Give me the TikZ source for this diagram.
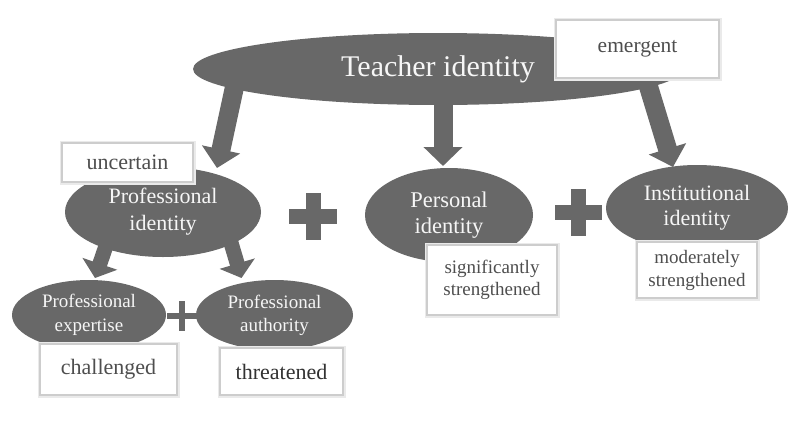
\documentclass[tikz,border=0pt]{standalone}
\usepackage{fontspec}
\setmainfont{Liberation Serif}
\usetikzlibrary{arrows.meta,calc,shapes.geometric}
\pgfdeclarelayer{background}
\pgfsetlayers{background,main}
\definecolor{ellcol}{RGB}{104,104,104}
\definecolor{elltext}{RGB}{246,246,246}
\definecolor{boxtext}{RGB}{78,78,78}
\definecolor{boxdark}{RGB}{50,50,50}
\definecolor{boxline}{RGB}{205,205,205}
\definecolor{boxglow}{RGB}{234,234,234}
\begin{document}
\begin{tikzpicture}[x=1pt,y=-1pt,
  idell/.style={ellipse, fill=ellcol, text=elltext, inner sep=0pt, align=center},
  tagbox/.style={rectangle, fill=white, draw=boxline, line width=1.2pt,
    preaction={draw=boxglow, line width=5pt}, text=boxtext, align=center, inner sep=0pt},
  bigarrow/.style={draw=ellcol, line width=19pt, -{Triangle[length=19pt 0, width=38pt 0]}},
  smallarrow/.style={draw=ellcol, line width=15pt, -{Triangle[length=15pt 0, width=36pt 0]}},
  plusbar/.style={fill=ellcol}
]
\useasboundingbox (0,0) rectangle (800,421);

% ellipses
\node[idell, minimum width=490pt, minimum height=72pt,
      font=\fontsize{30}{36}\selectfont] (T) at (438,69) {Teacher identity};
\node[idell, minimum width=196pt, minimum height=90pt,
      font=\fontsize{22}{27}\selectfont] (PI) at (163,212) {Professional\\identity};
\node[idell, minimum width=168pt, minimum height=94pt,
      font=\fontsize{22.5}{26}\selectfont] (PS) at (449,215) {Personal\\identity};
\node[idell, minimum width=182pt, minimum height=86pt,
      font=\fontsize{22}{25}\selectfont] (IN) at (697,208) {Institutional\\identity};
\node[idell, minimum width=154pt, minimum height=70pt,
      font=\fontsize{19}{24}\selectfont] (PE) at (89,315) {Professional\\expertise};
\node[idell, minimum width=157pt, minimum height=70pt,
      font=\fontsize{19}{23}\selectfont] (PA) at (274.5,315) {Professional\\authority};

% background and arrows
\begin{pgfonlayer}{background}
\fill[white] (0,0) rectangle (800,421);
\draw[bigarrow] ($(T.center)+(-202,11)$) -- ($(PI.center)+(54,-44)$);
\draw[bigarrow] ($(T.center)+(5,26)$) -- ($(PS.center)+(-6,-49)$);
\draw[bigarrow] ($(T.center)+(207,6)$) -- ($(IN.center)+(-24,-41)$);
\draw[smallarrow] ($(PI.center)+(-55,28)$) -- ($(PE.center)+(6,-37)$);
\draw[smallarrow] ($(PI.center)+(66,24)$) -- ($(PA.center)+(-33,-37)$);
\end{pgfonlayer}

% plus signs
\fill[plusbar] (289,208.5) rectangle (337,223.5);
\fill[plusbar] (305.5,193) rectangle (320.5,240);
\fill[plusbar] (554.5,204.5) rectangle (601.5,219.5);
\fill[plusbar] (570.5,188.5) rectangle (585.5,235.5);
\fill[plusbar] (167,313) rectangle (197,319);
\fill[plusbar] (179,301) rectangle (185,331);

% tag boxes
\node[tagbox, minimum width=163pt, minimum height=58pt,
      font=\fontsize{21.5}{26}\selectfont] (em) at (637.5,49) {emergent};
\node[tagbox, minimum width=131pt, minimum height=39pt,
      font=\fontsize{22}{26}\selectfont] (un) at (127.5,162.5) {uncertain};
\node[tagbox, minimum width=130pt, minimum height=70pt,
      font=\fontsize{19}{22.5}\selectfont] (sg) at (492,280) {significantly\\strengthened};
\node[tagbox, minimum width=120pt, minimum height=56pt,
      font=\fontsize{19}{23}\selectfont] (md) at (697,270) {moderately\\strengthened};
\node[tagbox, minimum width=137pt, minimum height=51pt,
      font=\fontsize{22}{26}\selectfont] (ch) at (108.5,369.5) {challenged};
\node[tagbox, text=boxdark, minimum width=123pt, minimum height=47pt,
      font=\fontsize{22}{26}\selectfont] (th) at (281.5,371.5) {threatened};
\end{tikzpicture}
\end{document}
